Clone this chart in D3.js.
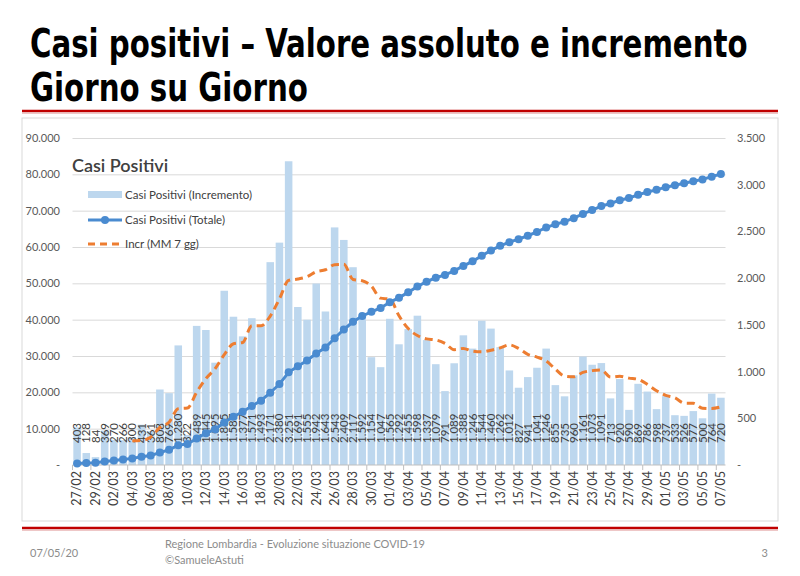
<!DOCTYPE html>
<html>
<head>
<meta charset="utf-8">
<script src="https://cdn.jsdelivr.net/npm/d3@7"></script>
<style>
  body { margin: 0; background: #fff; }
  svg text { font-family: Lato, "Open Sans", sans-serif; }
</style>
</head>
<body>
<svg id="chart" width="800" height="576"></svg>
<script>
// dates (27/02 -> 07/05)
var dates = ["27/02","28/02","29/02","01/03","02/03","03/03","04/03","05/03","06/03","07/03",
  "08/03","09/03","10/03","11/03","12/03","13/03","14/03","15/03","16/03","17/03",
  "18/03","19/03","20/03","21/03","22/03","23/03","24/03","25/03","26/03","27/03",
  "28/03","29/03","30/03","31/03","01/04","02/04","03/04","04/04","05/04","06/04",
  "07/04","08/04","09/04","10/04","11/04","12/04","13/04","14/04","15/04","16/04",
  "17/04","18/04","19/04","20/04","21/04","22/04","23/04","24/04","25/04","26/04",
  "27/04","28/04","29/04","30/04","01/05","02/05","03/05","04/05","05/05","06/05","07/05"];

// daily increment (bars, right axis)
var incremento = [403,128,84,369,270,266,300,431,361,808,
  769,1280,322,1489,1445,1095,1865,1587,1377,1571,
  1493,2171,2380,3251,1691,1555,1942,1643,2543,2409,
  2117,1592,1154,1047,1565,1292,1455,1598,1337,1079,
  791,1089,1388,1246,1544,1460,1262,1012,827,941,
  1041,1246,855,735,960,1161,1073,1091,713,920,
  590,869,786,598,737,533,526,577,500,764,720];

// total positive cases (line, left axis)
var totale = [403,531,615,984,1254,1520,1820,2251,2612,3420,
  4189,5469,5791,7280,8725,9820,11685,13272,14649,16220,
  17713,19884,22264,25515,27206,28761,30703,32346,34889,37298,
  39415,41007,42161,43208,44773,46065,47520,49118,50455,51534,
  52325,53414,54802,56048,57592,59052,60314,61326,62153,63094,
  64135,65381,66236,66971,67931,69092,70165,71256,71969,72889,
  73479,74348,75134,75732,76469,77002,77528,78105,78605,79369,80089];

// 7 day moving average of increment (dashed, right axis)
var media7 = [null,null,null,null,null,null,260,264,297,401,
  458,602,610,780,925,1030,1181,1298,1311,1490,
  1490,1594,1778,1976,1991,2016,2069,2090,2144,2148,
  1986,1972,1914,1786,1775,1597,1460,1386,1350,1339,
  1302,1234,1248,1218,1211,1228,1254,1286,1248,1185,
  1155,1113,1026,951,944,991,1010,1017,941,950,
  930,917,863,795,745,719,663,661,608,605,622];

var leftTicks = [0,10000,20000,30000,40000,50000,60000,70000,80000,90000];
var rightTicks = [0,500,1000,1500,2000,2500,3000,3500];

var it = d3.formatLocale({decimal: ",", thousands: ".", grouping: [3], currency: ["", "€"]});
var fmt = it.format(",d");
function tickFmt(d) { return d === 0 ? "-" : fmt(d); }

var svg = d3.select("#chart");

// title: condensed bold, squeezed horizontally to the slide width
function titleLine(txt, y, w) {
  var t = svg.append("text")
      .attr("x", 0).attr("y", 0)
      .style("font-family", "'DejaVu Sans Condensed', 'DejaVu Sans', sans-serif")
      .style("font-stretch", "condensed")
      .style("font-weight", "bold").style("font-size", "34px").style("fill", "#000")
      .text(txt);
  var len = t.node().getComputedTextLength();
  t.attr("transform", "translate(30," + y + ") scale(" + (w / len) + ",1.15)");
}
titleLine("Casi positivi – Valore assoluto e incremento", 57, 718);
titleLine("Giorno su Giorno", 101, 278);

// red separators
[111, 528].forEach(function (y) {
  svg.append("line").attr("x1", 22).attr("x2", 778).attr("y1", y).attr("y2", y)
      .style("stroke", "#c00000").style("stroke-width", 2.5);
  svg.append("line").attr("x1", 22).attr("x2", 778).attr("y1", y + 2).attr("y2", y + 2)
      .style("stroke", "#e8b4b4").style("stroke-width", 1.5);
});

// chart frame
svg.append("rect").attr("x", 22).attr("y", 118).attr("width", 756).attr("height", 403)
    .style("fill", "none").style("stroke", "#d9d9d9");

// scales
var x = d3.scaleBand().domain(dates).range([72.5, 725.5]).paddingInner(0.18).paddingOuter(0.09);
var yL = d3.scaleLinear().domain([0, 90000]).range([465, 138]);
var yR = d3.scaleLinear().domain([0, 3500]).range([465, 138]);

// gridlines
svg.append("g")
    .attr("transform", "translate(72.5,0)")
    .call(d3.axisLeft(yL).tickValues(leftTicks.slice(1)).tickSize(-653).tickFormat(""))
    .call(function (g) { g.select(".domain").remove(); })
    .selectAll("line").style("stroke", "#d9d9d9");

// bars
svg.append("g").selectAll("rect")
    .data(incremento)
    .enter().append("rect")
    .attr("x", function (d, i) { return x(dates[i]); })
    .attr("width", x.bandwidth())
    .attr("y", function (d) { return yR(d); })
    .attr("height", function (d) { return yR(0) - yR(d); })
    .style("fill", "#bdd7ee");

// bar labels
svg.append("g").selectAll("text")
    .data(incremento)
    .enter().append("text")
    .attr("transform", function (d, i) {
      return "translate(" + (x(dates[i]) + x.bandwidth() / 2) + ",443) rotate(-90)";
    })
    .attr("dy", "0.35em")
    .style("font-size", "11.5px").style("fill", "#404040")
    .text(function (d) { return fmt(d); });

// x axis
svg.append("line").attr("x1", 72.5).attr("x2", 725.5).attr("y1", 465).attr("y2", 465)
    .style("stroke", "#bfbfbf");
var step = x.step();
svg.append("g").selectAll("line")
    .data(dates.filter(function (d, i) { return i % 2 === 0; }))
    .enter().append("line")
    .attr("x1", function (d) { return x(d) - step * 0.09; })
    .attr("x2", function (d) { return x(d) - step * 0.09; })
    .attr("y1", 465).attr("y2", 470)
    .style("stroke", "#bfbfbf");

var xAxis = d3.axisBottom(x)
    .tickValues(dates.filter(function (d, i) { return i % 2 === 0; }))
    .tickSize(0);
svg.append("g")
    .attr("class", "xAxis")
    .attr("transform", "translate(0,465)")
    .call(xAxis)
    .call(function (g) { g.select(".domain").remove(); })
    .selectAll("text")
    .attr("transform", "rotate(-90)")
    .attr("x", -6).attr("y", 0).attr("dy", "0.35em")
    .style("text-anchor", "end")
    .style("font-size", "12.5px").style("fill", "#404040");

// left axis
svg.append("g")
    .attr("class", "yAxis")
    .attr("transform", "translate(60,0)")
    .call(d3.axisLeft(yL).tickValues(leftTicks).tickSize(0).tickFormat(tickFmt))
    .call(function (g) { g.select(".domain").remove(); })
    .selectAll("text")
    .attr("x", 0)
    .style("font-size", "11px").style("fill", "#595959");

// right axis
svg.append("g")
    .attr("class", "yAxis")
    .attr("transform", "translate(737,0)")
    .call(d3.axisRight(yR).tickValues(rightTicks).tickSize(0).tickFormat(tickFmt))
    .call(function (g) { g.select(".domain").remove(); })
    .selectAll("text")
    .attr("x", 0)
    .style("font-size", "11px").style("fill", "#595959");

// moving average (dashed)
var mmLine = d3.line()
    .defined(function (d) { return d !== null; })
    .x(function (d, i) { return x(dates[i]) + x.bandwidth() / 2; })
    .y(function (d) { return yR(d); })
    .curve(d3.curveMonotoneX);
svg.append("path")
    .data([media7])
    .attr("d", mmLine)
    .style("fill", "none").style("stroke", "#ed7d31")
    .style("stroke-width", 3).style("stroke-dasharray", "8,5");

// total line
var totLine = d3.line()
    .x(function (d, i) { return x(dates[i]) + x.bandwidth() / 2; })
    .y(function (d) { return yL(d); });
svg.append("path")
    .data([totale])
    .attr("d", totLine)
    .style("fill", "none").style("stroke", "#4a8bd0").style("stroke-width", 3);
svg.append("g").selectAll("circle")
    .data(totale)
    .enter().append("circle")
    .attr("cx", function (d, i) { return x(dates[i]) + x.bandwidth() / 2; })
    .attr("cy", function (d) { return yL(d); })
    .attr("r", 4)
    .style("fill", "#4a8bd0");

// legend
var lg = svg.append("g");
lg.append("text").attr("x", 72).attr("y", 172)
    .style("font-size", "18px").style("font-weight", "600").style("fill", "#404040")
    .text("Casi Positivi");
lg.append("rect").attr("x", 88).attr("y", 191).attr("width", 34).attr("height", 7)
    .style("fill", "#bdd7ee");
lg.append("line").attr("x1", 88).attr("x2", 122).attr("y1", 220).attr("y2", 220)
    .style("stroke", "#4a8bd0").style("stroke-width", 3);
lg.append("circle").attr("cx", 105).attr("cy", 220).attr("r", 4).style("fill", "#4a8bd0");
lg.append("line").attr("x1", 88).attr("x2", 122).attr("y1", 244).attr("y2", 244)
    .style("stroke", "#ed7d31").style("stroke-width", 3).style("stroke-dasharray", "7,5");
[["Casi Positivi (Incremento)", 195], ["Casi Positivi (Totale)", 220], ["Incr (MM 7 gg)", 244]]
  .forEach(function (l) {
    lg.append("text").attr("x", 125).attr("y", l[1]).attr("dy", "0.35em")
        .style("font-size", "11.5px").style("fill", "#404040")
        .text(l[0]);
  });

// footer
var ft = svg.append("g").style("font-size", "11px").style("fill", "#8c8c8c");
ft.append("text").attr("x", 30).attr("y", 557).text("07/05/20");
ft.append("text").attr("x", 165).attr("y", 548).text("Regione Lombardia - Evoluzione situazione COVID-19");
ft.append("text").attr("x", 165).attr("y", 564).text("©SamueleAstuti");
ft.append("text").attr("x", 768).attr("y", 557).style("text-anchor", "end").text("3");
</script>
</body>
</html>
